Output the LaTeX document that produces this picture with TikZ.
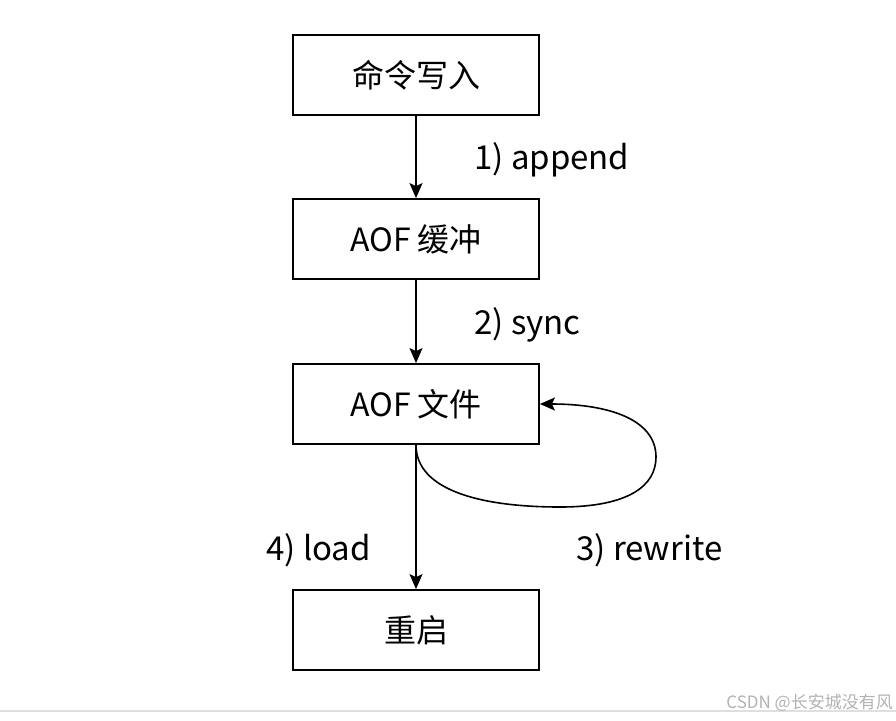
\documentclass[tikz,border=0pt]{standalone}
\usepackage{fontspec}
\setmainfont{Noto Sans CJK SC}
\usetikzlibrary{arrows.meta}
\begin{document}
\begin{tikzpicture}[x=1pt,y=-1pt,
  box/.style={draw, line width=1.8pt, minimum width=246pt, minimum height=80pt, inner sep=0pt, font=\fontsize{32}{38}\selectfont},
  lbl/.style={font=\fontsize{33}{38}\selectfont, inner sep=0pt, anchor=west},
  arr/.style={line width=1.6pt, -{Stealth[length=15pt,width=13pt,inset=3pt]}}]
\useasboundingbox (0,0) rectangle (896,720);
\node[box] (b1) at (416,75) {命令写入};
\node[box] (b2) at (416,239) {AOF 缓冲};
\node[box] (b3) at (416,404) {AOF 文件};
\node[box] (b4) at (416,630) {重启};
\draw[arr] (b1) -- (b2);
\draw[arr] (b2) -- (b3);
\draw[arr] (b3) -- (b4);
\draw[arr] (b3.south) .. controls (416,490) and (480,507) .. (560,507)
   .. controls (630,507) and (656,485) .. (656,457)
   .. controls (656,420) and (610,404) .. (b3.east);
\node[lbl] (l1) at (474,160) {1) append};
\node[lbl] (l2) at (474,325) {2) sync};
\node[lbl] (l4) at (266,550) {4) load};
\node[lbl] (l3) at (576,550) {3) rewrite};
\draw[line width=2pt, gray!25] (0,711) coordinate (g1) -- (896,711) coordinate (g2);
\node[font=\fontsize{17}{19}\selectfont, text=gray!60, anchor=east, inner sep=0pt] (wm) at (893,703) {CSDN @长安城没有风};
\end{tikzpicture}
\end{document}
